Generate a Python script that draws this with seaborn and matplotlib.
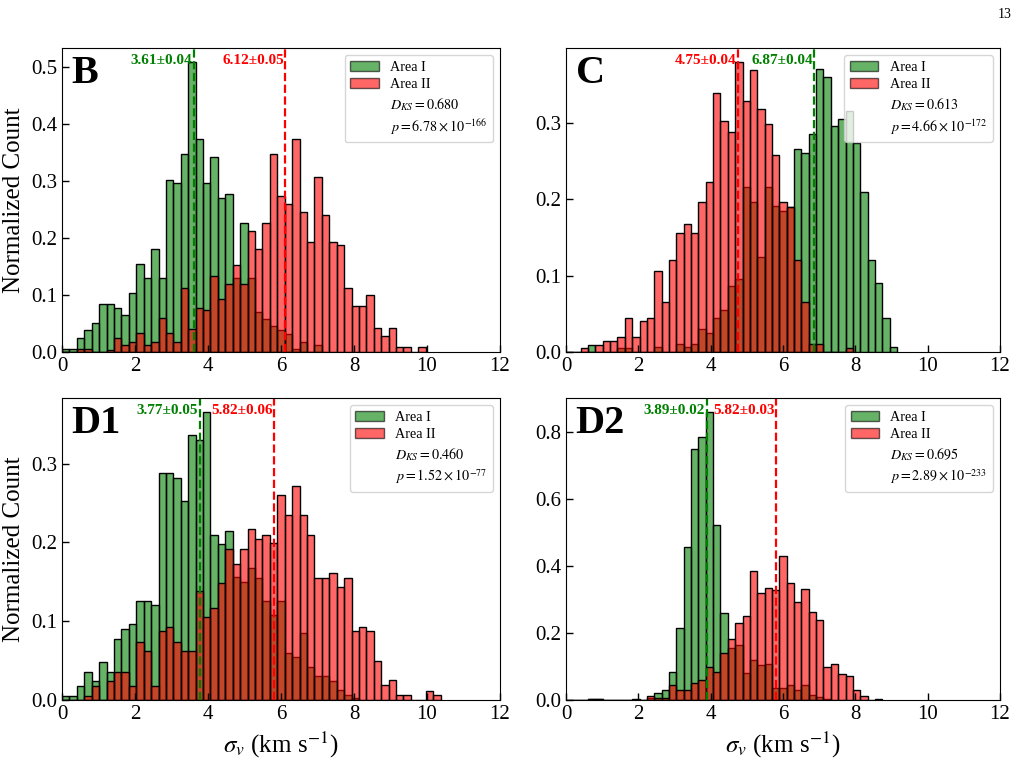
import numpy as np
import pandas as pd
import matplotlib
matplotlib.use('Agg')
import matplotlib.pyplot as plt
from matplotlib.patches import Patch
from matplotlib.lines import Line2D
import seaborn as sns

# shared bins for every panel (59 bins on 0..12)
bin_edges = np.linspace(0, 12, 60)

# normalized counts per bin, starting at the first bin
b_area1 = [0.005, 0.005, 0.025, 0.038, 0.051, 0.084, 0.084, 0.078, 0.065, 0.103,
           0.155, 0.129, 0.18, 0.129, 0.302, 0.296, 0.347, 0.508, 0.374, 0.297,
           0.342, 0.271, 0.277, 0.129, 0.226, 0.129, 0.071, 0.058, 0.045, 0.038,
           0.031, 0.006, 0.018, 0.0, 0.012]
b_area2 = [0, 0, 0.005, 0.005, 0, 0, 0.003, 0.025, 0.012, 0.018,
           0.034, 0.012, 0.018, 0.06, 0.034, 0.018, 0.113, 0.04, 0.078, 0.073,
           0.133, 0.093, 0.12, 0.153, 0.12, 0.213, 0.18, 0.227, 0.347, 0.274,
           0.26, 0.373, 0.246, 0.193, 0.307, 0.24, 0.193, 0.187, 0.113, 0.08,
           0.08, 0.1, 0.042, 0.028, 0.042, 0.008, 0.008, 0, 0.008]

c_area1 = [0, 0, 0, 0.009, 0, 0, 0, 0.005, 0.005, 0,
           0, 0, 0.006, 0, 0, 0.01, 0.006, 0.01, 0.03, 0.025,
           0.045, 0.055, 0.086, 0.095, 0.216, 0.196, 0.125, 0.216, 0.191, 0.185,
           0.19, 0.266, 0.26, 0.286, 0.37, 0.36, 0.296, 0.305, 0.316, 0.274,
           0.21, 0.12, 0.09, 0.045, 0.006]
c_area2 = [0, 0, 0.005, 0, 0.009, 0.015, 0.015, 0.02, 0.045, 0.02,
           0.04, 0.045, 0.106, 0.065, 0.121, 0.156, 0.167, 0.156, 0.197, 0.222,
           0.339, 0.303, 0.288, 0.379, 0.329, 0.369, 0.318, 0.298, 0.258, 0.197,
           0.19, 0.12, 0.065, 0.01, 0.01, 0, 0, 0, 0.005]

d1_area1 = [0.005, 0.005, 0.018, 0.036, 0.024, 0.048, 0.036, 0.078, 0.09, 0.096,
            0.126, 0.126, 0.12, 0.288, 0.288, 0.282, 0.252, 0.336, 0.33, 0.365,
            0.21, 0.198, 0.215, 0.156, 0.15, 0.168, 0.155, 0.126, 0.108, 0.126,
            0.06, 0.054, 0.085, 0.042, 0.03, 0.03, 0.024, 0.013, 0.006, 0.003]
d1_area2 = [0, 0, 0, 0.005, 0.018, 0, 0.024, 0.036, 0.036, 0.018,
            0.074, 0.062, 0.018, 0.087, 0.093, 0.074, 0.062, 0.062, 0.138, 0.105,
            0.117, 0.149, 0.192, 0.173, 0.192, 0.217, 0.204, 0.21, 0.199, 0.26,
            0.235, 0.272, 0.235, 0.21, 0.155, 0.155, 0.161, 0.143, 0.155, 0.088,
            0.093, 0.088, 0.049, 0.019, 0.025, 0.006, 0.006, 0, 0, 0.011, 0.006]

d2_area1 = [0, 0, 0, 0.004, 0.004, 0, 0, 0, 0, 0.004,
            0, 0.005, 0.022, 0.03, 0.084, 0.215, 0.456, 0.751, 0.785, 0.86,
            0.522, 0.26, 0.154, 0.164, 0.08, 0.119, 0.104, 0.109, 0.035, 0.035,
            0.045, 0.03, 0.045, 0.015, 0.01, 0.003]
d2_area2 = [0, 0, 0, 0.004, 0.004, 0, 0, 0, 0, 0,
            0, 0.012, 0.007, 0.005, 0.045, 0.03, 0.03, 0.05, 0.06, 0.1,
            0.084, 0.142, 0.181, 0.231, 0.25, 0.387, 0.319, 0.334, 0.329, 0.432,
            0.349, 0.294, 0.332, 0.263, 0.24, 0.099, 0.107, 0.079, 0.071, 0.03,
            0.012, 0, 0.004]

panel_names = ['B', 'C', 'D1', 'D2']
mean_area1 = [3.61, 6.87, 3.77, 3.89]
err_area1 = [0.04, 0.04, 0.05, 0.02]
mean_area2 = [6.12, 4.75, 5.82, 5.82]
err_area2 = [0.05, 0.04, 0.06, 0.03]
d_ks = [0.680, 0.613, 0.460, 0.695]
p_mantissa = [6.78, 4.66, 1.52, 2.89]
p_exponent = [-166, -172, -77, -233]

plt.rcParams['font.family'] = ['Liberation Serif', 'DejaVu Serif']
plt.rcParams['mathtext.fontset'] = 'stix'

fig = plt.figure(figsize=(10.27, 7.8), dpi=100)
W, H = 1027, 780
boxes = [(62, 48, 438, 304), (566, 48, 434, 304),
         (62, 398, 438, 302), (566, 398, 434, 302)]
axes = [fig.add_axes([x / W, 1 - (y + h) / H, w / W, h / H]) for x, y, w, h in boxes]

hists = [(b_area1, b_area2), (c_area1, c_area2), (d1_area1, d1_area2), (d2_area1, d2_area2)]
bin_width = bin_edges[1] - bin_edges[0]


def draw_hist(ax, heights, color):
    n = len(heights)
    centers = bin_edges[:n] + 0.5 * bin_width
    df = pd.DataFrame({'sigma': centers, 'count': heights})
    sns.histplot(data=df, x='sigma', weights='count', binwidth=bin_width,
                 binrange=(0, bin_edges[n]), color=color, alpha=0.6,
                 edgecolor='black', linewidth=1.0, ax=ax)


for i, ax in enumerate(axes):
    h1, h2 = hists[i]
    draw_hist(ax, h1, 'green')
    draw_hist(ax, h2, 'red')

    ax.axvline(mean_area1[i], color='green', ls='--', lw=1.6)
    ax.axvline(mean_area2[i], color='red', ls='--', lw=1.6)
    for m, e, col in ((mean_area1[i], err_area1[i], 'green'), (mean_area2[i], err_area2[i], 'red')):
        ax.annotate(f'{m:.2f}±{e:.2f}', xy=(m, 0.96), xycoords=('data', 'axes fraction'),
                    xytext=(-1, 0), textcoords='offset points', ha='right', va='center',
                    color=col, fontweight='bold', fontsize=11)

    ax.text(0.022, 0.978, panel_names[i], transform=ax.transAxes, fontsize=29,
            fontweight='bold', ha='left', va='top')

    handles = [Patch(facecolor='green', alpha=0.6, edgecolor='black'),
               Patch(facecolor='red', alpha=0.6, edgecolor='black'),
               Line2D([], [], linestyle='none'),
               Line2D([], [], linestyle='none')]
    labels = ['Area I', 'Area II', rf'$D_{{KS}}={d_ks[i]:.3f}$',
              rf'$p={p_mantissa[i]:.2f}\times10^{{{p_exponent[i]}}}$']
    ax.legend(handles, labels, loc='upper right', fontsize=10.2, labelspacing=0.32)

    ax.set_xlim(0, 12)
    ax.set_xticks(range(0, 13, 2))
    ax.tick_params(direction='in', labelsize=15, length=5, width=1)
    ax.set_xlabel('')
    ax.set_ylabel('')
    if i >= 2:
        ax.set_xlabel(r'$\sigma_v$ (km s$^{-1}$)', fontsize=18)
    if i % 2 == 0:
        ax.set_ylabel('Normalized Count', fontsize=18)

fig.text(0.985, 0.99, '13', ha='right', va='top', fontsize=10)

fig.savefig('out.png', dpi=100)
